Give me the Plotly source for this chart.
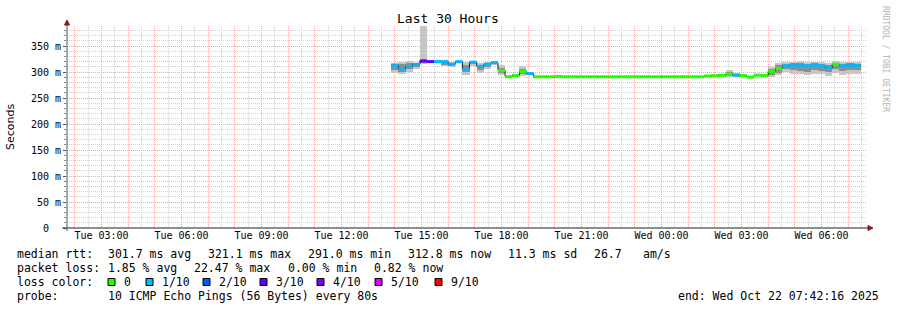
import plotly.graph_objects as go
import pandas as pd

# ---------------- data ----------------
axis_start = "2025-10-21 01:42:16"
axis_end = "2025-10-22 07:42:16"
data_start = "2025-10-21 13:52:00"
step_minutes = 16

median = [
    313, 306, 311, 315, 321, 320, 320, 320, 315, 320,
    306, 319, 311, 315, 318, 303, 291, 293, 301, 297,
    290.8, 290.8, 290.8, 291.5, 290.8, 290.8, 290.8, 290.8, 290.8, 290.8,
    290.8, 290.8, 290.8, 290.8, 290.8, 290.8, 290.8, 290.8, 290.8, 290.8,
    290.8, 290.8, 290.8, 290.8, 292.3, 293.0, 293.5, 296, 294, 293,
    290, 294, 293.5, 301.5, 307, 312, 313, 313, 312, 313,
    312, 308, 315, 312, 313, 312.8,
]
loss_idx = [
    1, 1, 1, 1, 3, 3, 1, 1, 1, 1,
    1, 1, 1, 1, 1, 0, 0, 0, 0, 1,
    0, 0, 0, 0, 0, 0, 0, 0, 0, 0,
    0, 0, 0, 0, 0, 0, 0, 0, 0, 0,
    0, 0, 0, 0, 0, 0, 0, 0, 1, 0,
    0, 0, 0, 0, 0, 1, 1, 1, 1, 1,
    1, 1, 0, 1, 1, 1,
]
smoke_lo = [
    298, 296, 300, 306, 316, 318, 318, 311, 309, 317,
    295, 312, 298, 305, 313, 294, 289, 291, 293, 294,
    289.5, 289.5, 289.5, 290.2, 289.5, 289.5, 289.5, 289.5, 289.5, 289.5,
    289.5, 289.5, 289.5, 289.5, 289.5, 289.5, 289.5, 289.5, 289.5, 289.5,
    289.5, 289.5, 289.5, 289.5, 291, 291.5, 292, 291, 290, 291,
    288, 292, 291, 291, 294, 300, 297, 296, 295, 297,
    296, 293, 298, 295, 296, 297,
]
smoke_hi = [
    318, 320, 322, 318, 388, 322, 322, 321, 319, 322,
    320, 322, 318, 320, 321, 313, 293, 296, 311, 301,
    292.3, 292.3, 292.3, 293, 292.3, 292.3, 292.3, 292.3, 292.3, 292.3,
    292.3, 292.3, 292.3, 292.3, 292.3, 292.3, 292.3, 292.3, 292.3, 292.3,
    292.3, 292.3, 292.3, 292.3, 293.8, 294.5, 295, 304, 299, 296,
    293, 297, 296, 310, 317, 319, 320, 321, 320, 319,
    320, 318, 321, 319, 320, 320,
]
core_lo = [
    303, 300, 305, 309, 318, 319, 319, 314, 312, 318,
    300, 315, 304, 309, 315, 298, 290, 292, 297, 295,
    290, 290, 290, 290.7, 290, 290, 290, 290, 290, 290,
    290, 290, 290, 290, 290, 290, 290, 290, 290, 290,
    290, 290, 290, 290, 291.6, 292.2, 292.7, 293, 292, 292,
    289, 293, 292, 295, 299, 305, 303, 302, 301, 304,
    302, 300, 305, 302, 303, 303,
]
core_hi = [
    315, 316, 318, 317, 326, 321, 321, 320, 318, 321,
    314, 321, 314, 317, 320, 308, 292, 295, 306, 299,
    291.6, 291.6, 291.6, 292.3, 291.6, 291.6, 291.6, 291.6, 291.6, 291.6,
    291.6, 291.6, 291.6, 291.6, 291.6, 291.6, 291.6, 291.6, 291.6, 291.6,
    291.6, 291.6, 291.6, 291.6, 293, 293.8, 294.3, 300, 297, 295,
    292, 296, 295, 306, 313, 316, 317, 317, 316, 317,
    316, 314, 318, 316, 317, 316,
]

loss_labels = ["0", "1/10", "2/10", "3/10", "4/10", "5/10", "9/10"]
loss_colors = ["#26ff00", "#00b8ff", "#0059ff", "#5e00ff", "#7e00ff", "#dd00ff", "#ff0000"]

y_ticks = [0, 50, 100, 150, 200, 250, 300, 350]
y_ticktext = ["0\u00a0\u00a0", "50 m", "100 m", "150 m", "200 m", "250 m", "300 m", "350 m"]

stats_rtt = ["median rtt:", "301.7 ms avg", "321.1 ms max", "291.0 ms min",
             "312.8 ms now", "11.3 ms sd", "26.7", "am/s"]
stats_loss = ["packet loss:", "1.85 % avg", "22.47 % max", "0.00 % min", "0.82 % now"]
probe_text = ["probe:", "10 ICMP Echo Pings (56 Bytes) every 80s"]
end_text = "end: Wed Oct 22 07:42:16 2025"
title_text = "Last 30 Hours"
y_title = "Seconds"
watermark = "RRDTOOL / TOBI OETIKER"

# ---------------- geometry ----------------
W, H = 897, 310
PL, PR, PT, PB = 67, 867, 26, 228
Y_TOP = 388.5
MONO = "DejaVu Sans Mono"
LEG = 11.5


def px(x):
    return (x - PL) / (PR - PL)


def py(y):
    return (PB - y) / (PB - PT)


n = len(median)
edges = pd.date_range(data_start, periods=n + 1, freq=f"{step_minutes}min")
centers = edges[:-1] + pd.Timedelta(minutes=step_minutes / 2)
bar_w = step_minutes * 60 * 1000

fig = go.Figure()

fig.add_trace(go.Bar(
    x=centers, y=[h - l for h, l in zip(smoke_hi, smoke_lo)], base=smoke_lo,
    width=bar_w, marker=dict(color="#c6c6c6", line=dict(width=0)),
    hoverinfo="skip", showlegend=False))
fig.add_trace(go.Bar(
    x=centers, y=[h - l for h, l in zip(core_hi, core_lo)], base=core_lo,
    width=bar_w, marker=dict(color="#8e8e8e", line=dict(width=0)),
    hoverinfo="skip", showlegend=False))
# thin dark step line of the median (shows the vertical joins)
fig.add_trace(go.Scatter(
    x=edges, y=median + [median[-1]], mode="lines", line=dict(shape="hv", color="#202020", width=1),
    hoverinfo="skip", showlegend=False))
# coloured median segments by loss level
for ci, col in enumerate(loss_colors):
    xs, ys = [], []
    for k in range(n):
        if loss_idx[k] == ci:
            xs += [edges[k], edges[k + 1], None]
            ys += [median[k], median[k], None]
    if xs:
        fig.add_trace(go.Scatter(x=xs, y=ys, mode="lines", line=dict(color=col, width=3),
                                 hoverinfo="skip", showlegend=False, connectgaps=False))

# x ticks: every hour grid, labels every 3 hours
hours = pd.date_range("2025-10-21 02:00", "2025-10-22 07:00", freq="1h")
x_ticktext = [h.strftime("%a %H:%M") if h.hour % 3 == 0 else "" for h in hours]

grid_minor = "#d2d2d2"
grid_major = "#f2a6a6"

fig.update_layout(
    width=W, height=H,
    margin=dict(l=PL, r=W - PR, t=PT, b=H - PB, pad=0),
    paper_bgcolor="white", plot_bgcolor="white",
    barmode="overlay", bargap=0,
    font=dict(family=MONO, size=10, color="#000000"),
    xaxis=dict(
        type="date", range=[axis_start, axis_end],
        tickmode="array", tickvals=hours, ticktext=x_ticktext,
        showgrid=True, gridcolor=grid_major, griddash="1px,1px", gridwidth=1,
        ticks="", tickfont=dict(family=MONO, size=10, color="#000"),
        minor=dict(dtick=30 * 60 * 1000, tick0="2025-10-21 01:30", showgrid=True,
                   gridcolor=grid_minor, griddash="1px,1px", gridwidth=1),
        showline=False, zeroline=False, fixedrange=True,
    ),
    yaxis=dict(
        range=[0, Y_TOP], tickmode="array", tickvals=y_ticks, ticktext=y_ticktext,
        showgrid=True, gridcolor=grid_major, griddash="1px,1px", gridwidth=1,
        ticks="outside", ticklen=3, tickcolor="#555", ticklabelstandoff=0,
        tickfont=dict(family=MONO, size=10, color="#000"),
        minor=dict(dtick=10, tick0=0, showgrid=True, gridcolor=grid_minor, griddash="1px,1px",
                   gridwidth=1, ticks="outside", ticklen=2, tickcolor="#888"),
        showline=False, zeroline=False, fixedrange=True,
    ),
)

shapes = []
# axis lines
shapes.append(dict(type="line", xref="paper", yref="paper", x0=px(62.5), x1=px(868), y0=0, y1=0,
                   line=dict(color="#1f1f1f", width=1), layer="above"))
shapes.append(dict(type="line", xref="paper", yref="paper", x0=0, x1=0, y0=py(231), y1=py(24),
                   line=dict(color="#555555", width=1), layer="above"))
# arrows
shapes.append(dict(type="path", xref="paper", yref="paper",
                   path=f"M {px(868)},{py(225.5)} L {px(873)},{py(228)} L {px(868)},{py(230.5)} Z",
                   fillcolor="#7f1f1f", line=dict(color="#7f1f1f", width=1), layer="above"))
shapes.append(dict(type="path", xref="paper", yref="paper",
                   path=f"M {px(64.5)},{py(25)} L {px(67)},{py(20)} L {px(69.5)},{py(25)} Z",
                   fillcolor="#7f1f1f", line=dict(color="#7f1f1f", width=1), layer="above"))

annotations = []


def txt(x, y, s, size=LEG, anchor="left", color="#000", family=MONO, angle=0):
    annotations.append(dict(xref="paper", yref="paper", x=px(x), y=py(y), text=s, showarrow=False,
                            xanchor=anchor, yanchor="middle", textangle=angle,
                            font=dict(family=family, size=size, color=color), borderpad=0))


txt(448, 19, title_text, size=13, anchor="center")
txt(10, 127, y_title, size=11, anchor="center", family="DejaVu Sans", angle=-90)
txt(886, 59, watermark, size=8, anchor="center", color="#b4b4b4", angle=90)

rtt_x = [16, 107, 207, 307, 407, 507, 593, 642]
for xx, s in zip(rtt_x, stats_rtt):
    txt(xx, 254, s)
loss_x = [16, 107, 193, 286.5, 372.5]
for xx, s in zip(loss_x, stats_loss):
    txt(xx, 268, s)
txt(16, 282, "loss color:")
sq_x = [108, 146, 203, 260, 317, 375, 435]
for xx, lab, col in zip(sq_x, loss_labels, loss_colors):
    shapes.append(dict(type="rect", xref="paper", yref="paper", x0=px(xx), x1=px(xx + 7),
                       y0=py(278.5), y1=py(285.5), fillcolor=col, line=dict(color="#000", width=1)))
    txt(xx + 15, 282, lab)
txt(16, 296, probe_text[0])
txt(107, 296, probe_text[1])
txt(880, 296, end_text, anchor="right")

fig.update_layout(shapes=shapes, annotations=annotations)

fig.write_html("out.html")
